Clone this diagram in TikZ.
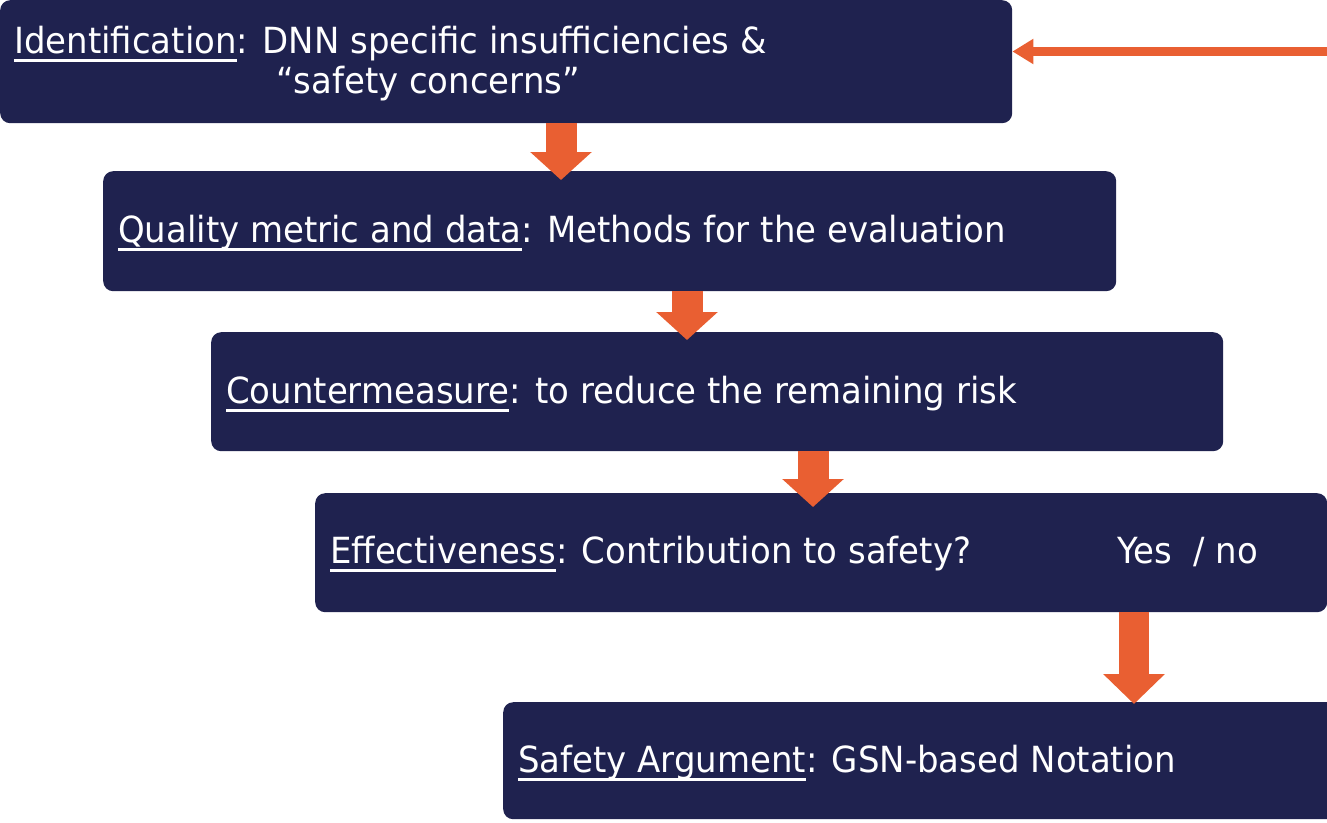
\documentclass[tikz,border=0pt]{standalone}
\usepackage{fontspec}
\setmainfont{DejaVu Sans}[FakeStretch=0.943]
\usetikzlibrary{arrows.meta}
\definecolor{navy}{RGB}{31,34,79}
\definecolor{flame}{RGB}{233,95,50}
% underline drawn as a rule a fixed distance below the baseline
\newcommand\uln[1]{\setbox0\hbox{#1}\rlap{\rule[-9pt]{\wd0}{3.5pt}}\box0}

\begin{document}
\begin{tikzpicture}[x=1pt,y=-1pt,
  stage/.style={fill=navy, rounded corners=10pt, anchor=north west, inner sep=0pt,
                minimum width=1012pt},
  txt/.style={anchor=base west, inner sep=0pt, text=white,
              font=\fontsize{36}{40}\selectfont},
  down/.style={flame, line width=31pt, -{Triangle[width=60pt,length=28pt]}},
  back/.style={flame, line width=9pt, -{Triangle[width=24pt,length=21pt]}}]
\useasboundingbox (0,0) rectangle (1327,822);
\clip (0,0) rectangle (1327,822);

% process stages
\node[stage, minimum height=123pt] (b1) at (0,0) {};
\node[stage, minimum width=1013pt, minimum height=120pt] (b2) at (103,171) {};
\node[stage, minimum height=119pt] (b3) at (211,332) {};
\node[stage, minimum height=119pt] (b4) at (315,493) {};
\node[stage, minimum height=117pt] (b5) at (503,702) {};

% stage texts
\node[txt] (t1) at (14,53) {\uln{Identification}: DNN specific insufficiencies \&};
\node[txt] (t1b) at (276,93) {“safety concerns”};
\node[txt] (t2) at (118,242) {\uln{Quality metric and data}: Methods for the evaluation};
\node[txt] (t3) at (226,403) {\uln{Countermeasure}: to reduce the remaining risk};
\node[txt] (t4) at (330,563) {\uln{Effectiveness}: Contribution to safety?};
\node[txt] (t4b) at (1117,563) {Yes\ \ / no};
\node[txt] (t5) at (518,772) {\uln{Safety Argument}: GSN-based Notation};

% flow arrows
\draw[down, shorten >=-9pt] (b1.south -| 561,0) -- (b2.north -| 561,0);
\draw[down, shorten >=-8pt] (b2.south -| 687,0) -- (b3.north -| 687,0);
\draw[down, shorten >=-14pt] (b3.south -| 813,0) -- (b4.north -| 813,0);
\draw[down, line width=30pt, -{Triangle[width=60pt,length=30pt]}, shorten >=-2pt]
  (b4.south -| 1134,0) -- (b5.north -| 1134,0);

% feedback arrow entering from the right
\coordinate (feed) at (1335,51.5);
\draw[back] (feed) -- (feed -| b1.east);
\end{tikzpicture}
\end{document}
